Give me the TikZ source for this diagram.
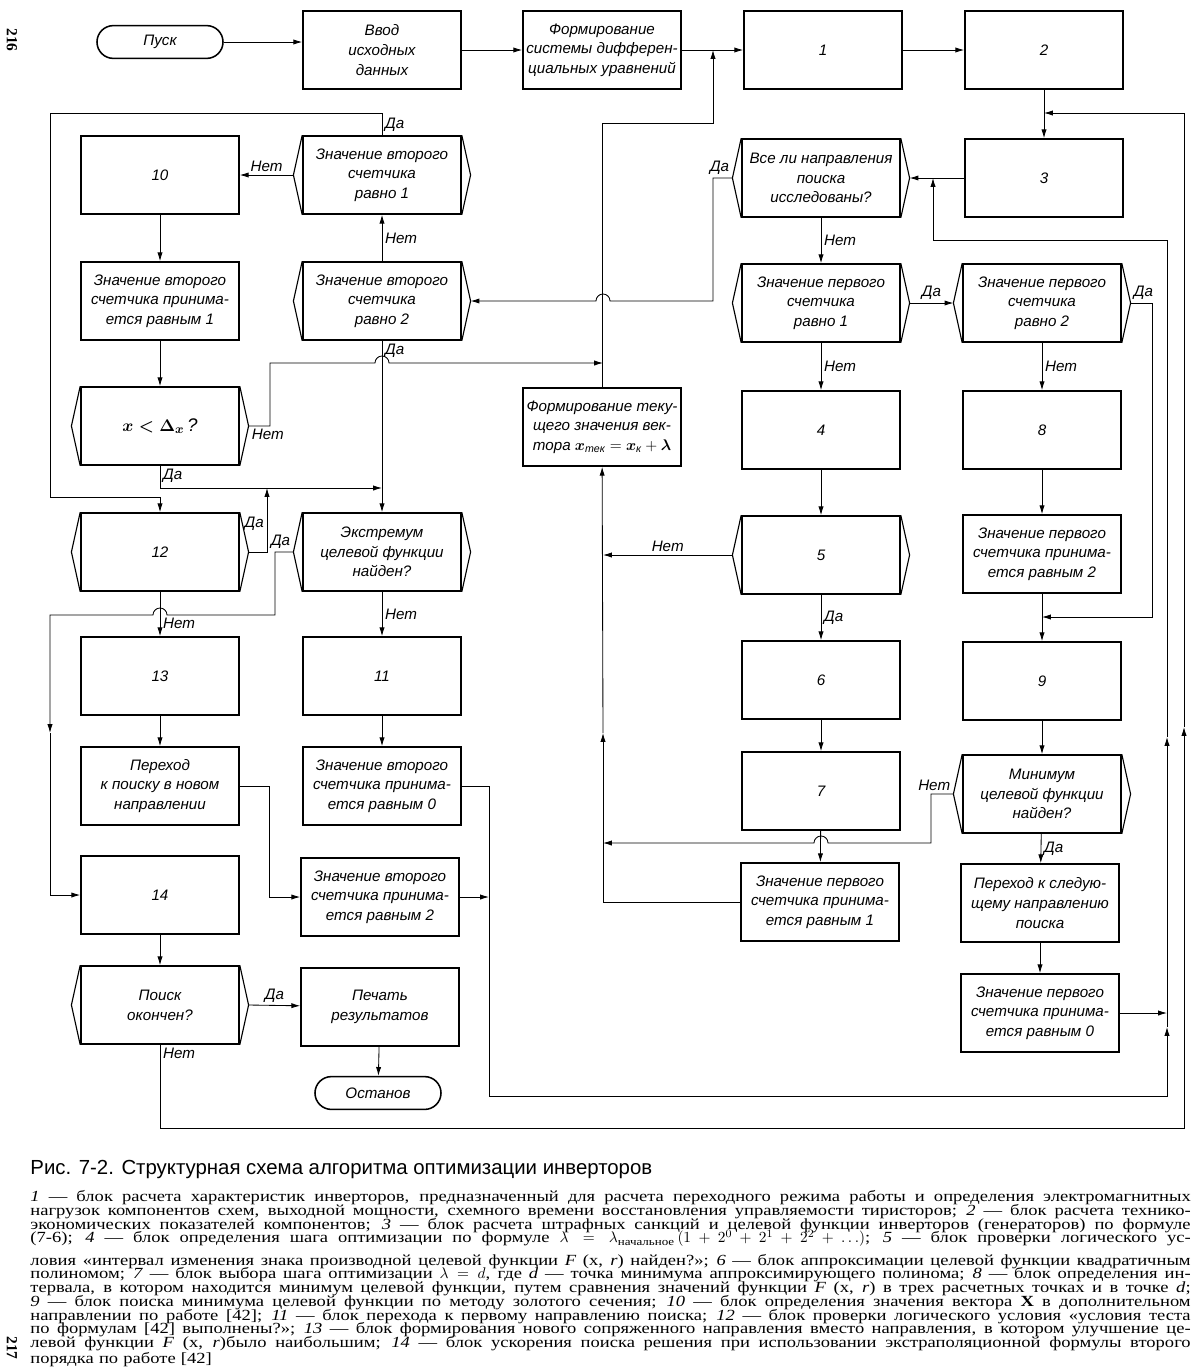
\documentclass[tikz,border=0pt]{standalone}
\usepackage{amsmath}
\usepackage{fontspec}
\setmainfont{Liberation Serif}
\newfontfamily\blockfont{Liberation Sans}
\newfontfamily\capfont[FakeStretch=1.2]{Liberation Serif}
\newfontfamily\titlefont{Liberation Sans}
\usepackage{tikz}
\usetikzlibrary{arrows.meta, positioning}
\newcommand{\blkfont}{\blockfont\itshape\fontsize{10.8}{14}\selectfont}
\newcommand{\capline}[1]{\makebox[29cm][s]{\spaceskip=0pt\xspaceskip=0pt #1}}

\begin{document}
\begin{tikzpicture}[x=0.025cm, y=-0.025cm, line width=0.6pt,
        box/.style={rectangle, draw, line width=1.1pt, minimum width=3.95cm, minimum height=1.95cm, align=center, inner sep=1pt, font=\blkfont},
        term/.style={rectangle, draw, line width=1.1pt, rounded corners=0.41cm, minimum width=3.15cm, minimum height=0.82cm, font=\blkfont},
        arrow/.style={-{Latex[length=2.2mm,width=1.3mm]}},
        lab/.style={font=\blkfont, inner sep=2pt}
    ]
    \useasboundingbox (0,0) rectangle (1200,1369);

    % page numbers
    \node[rotate=-90, font=\fontsize{11}{12}\selectfont\bfseries] (pa) at (12,40) {216};
    \node[rotate=-90, font=\fontsize{11}{12}\selectfont\bfseries] (pb) at (12,1348) {217};

    % blocks
    \node[term] (start) at (160,42) {Пуск};
    \node[box] (inp) at (382,50) {Ввод\\исходных\\данных};
    \node[box] (sys) at (602,50) {Формирование\\системы дифферен-\\циальных уравнений};
    \node[box] (b1) at (823,50) {1};
    \node[box] (b2) at (1044,50) {2};
    \node[box] (b3) at (1044,178) {3};
    \node[box] (qall) at (821,178) {Все ли направления\\поиска\\исследованы?};
    \node[box] (b10) at (160,175) {10};
    \node[box] (c2eq1) at (382,175) {Значение второго\\счетчика\\равно 1};
    \node[box] (s2eq1) at (160,301) {Значение второго\\счетчика принима-\\ется равным 1};
    \node[box] (c2eq2) at (382,301) {Значение второго\\счетчика\\равно 2};
    \node[box] (c1eq1) at (821,303) {Значение первого\\счетчика\\равно 1};
    \node[box] (c1eq2) at (1042,303) {Значение первого\\счетчика\\равно 2};
    \node[box] (cx) at (160,426) {{\fontsize{13}{15}\selectfont$\boldsymbol{x<\Delta_x}$\,?}};
    \node[box] (sys2) at (602,427) {Формирование теку-\\щего значения век-\\тора $\boldsymbol{x}_{\text{тек}}=\boldsymbol{x}_{\text{к}}+\boldsymbol{\lambda}$};
    \node[box] (b4) at (821,430) {4};
    \node[box] (b8) at (1042,430) {8};
    \node[box] (c12) at (160,552) {12};
    \node[box] (cext) at (382,552) {Экстремум\\целевой функции\\найден?};
    \node[box] (c5) at (821,555) {5};
    \node[box] (s1eq2) at (1042,554) {Значение первого\\счетчика принима-\\ется равным 2};
    \node[box] (b13) at (160,676) {13};
    \node[box] (b11) at (382,676) {11};
    \node[box] (b6) at (821,680) {6};
    \node[box] (b9) at (1042,681) {9};
    \node[box] (ptrans) at (160,786) {Переход\\к поиску в новом\\направлении};
    \node[box] (s2eq0) at (382,786) {Значение второго\\счетчика принима-\\ется равным 0};
    \node[box] (b7) at (821,791) {7};
    \node[box] (cmin) at (1042,794) {Минимум\\целевой функции\\найден?};
    \node[box] (b14) at (160,895) {14};
    \node[box] (s2eq2) at (380,897) {Значение второго\\счетчика принима-\\ется равным 2};
    \node[box] (s1eq1) at (820,902) {Значение первого\\счетчика принима-\\ется равным 1};
    \node[box] (pnext) at (1040,903) {Переход к следую-\\щему направлению\\поиска};
    \node[box] (cend) at (160,1005) {Поиск\\окончен?};
    \node[box] (print) at (380,1007) {Печать\\результатов};
    \node[box] (s1eq0) at (1040,1013) {Значение первого\\счетчика принима-\\ется равным 0};
    \node[term] (stop) at (378,1093) {Останов};

    % side marks of the condition blocks
    \foreach \n in {qall,c2eq1,c2eq2,c1eq1,c1eq2,cx,c12,cext,c5,cmin,cend}{
        \draw[line width=0.8pt] (\n.north west) -- ([xshift=-0.22cm]\n.west) coordinate (\n-l) -- (\n.south west)
            (\n.north east) -- ([xshift=0.22cm]\n.east) coordinate (\n-r) -- (\n.south east);
    }

    % junctions
    \coordinate (jtop) at (713,50);
    \coordinate (jo) at (1044,113);
    \coordinate (jq) at (933,178);
    \coordinate (jn) at (603,363);
    \coordinate (jx) at (382,488);
    \coordinate (j12) at (267,488);
    \coordinate (j5) at (603,555);
    \coordinate (jd) at (1042,617);
    \coordinate (jl) at (50,733);
    \coordinate (jv) at (603,733);
    \coordinate (ro) at (1184,727);
    \coordinate (ri) at (1167,737);
    \coordinate (ri2) at (1167,1027);
    \coordinate (jm) at (603,843);
    \coordinate (js) at (489,897);
    \coordinate (ji) at (1167,1013);

    % upper row
    \draw[arrow] (start) -- (start -| inp.west);
    \draw[arrow] (inp) -- (sys);
    \draw[arrow] (sys) -- (b1);
    \draw[arrow] (b1) -- (b2);
    \draw[arrow] (b2) -- (b3);
    \draw[arrow] (b3) -- (qall-r);
    \draw[arrow] (sys2) |- (713,123) -- (jtop);

    % right part
    \draw[arrow] (qall) -- node[lab, right]{Нет} (c1eq1);
    \draw[arrow] (qall-l) node[lab, above left]{Да} -| (713,301) -- (610,301)
        arc[start angle=0, end angle=180, radius=0.175cm] -- (c2eq2-r);
    \draw[arrow] (c1eq1-r) -- node[lab, above]{Да} (c1eq2-l);
    \draw[arrow] (c1eq1) -- node[lab, right]{Нет} (b4);
    \draw[arrow] (c1eq2) -- node[lab, right]{Нет} (b8);
    \draw[arrow] (c1eq2-r) node[lab, above right]{Да} -| (1152,617) -- (jd);
    \draw[arrow] (b8) -- (s1eq2);
    \draw[arrow] (s1eq2) -- (b9);
    \draw[arrow] (b9) -- (cmin);
    \draw[arrow] (cmin) -- node[lab, right]{Да} (pnext);
    \draw[arrow] (pnext) -- (s1eq0);
    \draw[arrow] (s1eq0) -- (ji);
    \draw[arrow] (cmin-l) node[lab, above left]{Нет} -- (931,794) |- (828,843)
        arc[start angle=0, end angle=180, radius=0.175cm] -- (jm);
    \draw[arrow] (b4) -- (c5);
    \draw[arrow] (c5) -- node[lab, right]{Да} (b6);
    \draw[arrow] (b6) -- (b7);
    \draw[arrow] (b7) -- (s1eq1);
    \draw[arrow] (c5-l) -- node[lab, above]{Нет} (j5);
    \draw (s1eq1) -| (jm);
    \draw[arrow] (jm) -- (jv);
    \draw[arrow] (jv) -- (sys2);

    % left part
    \draw[arrow] (c2eq1-l) -- node[lab, above]{Нет} (b10);
    \draw[arrow] (c2eq1.north) node[lab, above right]{Да} |- (50,113) |- (160,497) -- (c12);
    \draw[arrow] (c2eq2) -- node[lab, right]{Нет} (c2eq1);
    \draw[arrow] (c2eq2.south) node[lab, below right]{Да} -- (cext);
    \draw[arrow] (b10) -- (s2eq1);
    \draw[arrow] (s2eq1) -- (cx);
    \draw[arrow] (cx-r) node[lab, below right]{Нет} -- (270,426) |- (375,363)
        arc[start angle=180, end angle=0, radius=0.175cm] -- (jn);
    \draw[arrow] (cx.south) node[lab, below right]{Да} |- (jx);
    \draw[arrow] (c12-r) -| node[lab, left, pos=0.72]{Да} (j12);
    \draw[arrow] (c12) -- node[lab, right, pos=0.7]{Нет} (b13);
    \draw[arrow] (cext-l) node[lab, above left]{Да} -- (275,552) |- (167,615)
        arc[start angle=0, end angle=180, radius=0.175cm] -- (50,615) -- (jl);
    \draw[arrow] (jl) |- (b14);
    \draw[arrow] (cext) -- node[lab, right]{Нет} (b11);
    \draw[arrow] (b13) -- (ptrans);
    \draw[arrow] (ptrans) -- (269,786) |- (s2eq2);
    \draw[arrow] (b11) -- (s2eq0);
    \draw[arrow] (s2eq2) -- (js);
    \draw[arrow] (b14) -- (cend);
    \draw[arrow] (cend-r) -- node[lab, above]{Да} (print);
    \draw[arrow] (print) -- (stop);

    % return loops
    \draw[arrow] (s2eq0) -| (489,1096) -| (ri2);
    \draw[arrow] (ri2) -- (ri);
    \draw[arrow] (ri) |- (933,240) -- (jq);
    \draw[arrow] (cend.south) node[lab, below right]{Нет} |- (1184,1128) -- (ro);
    \draw[arrow] (ro) |- (jo);

    % caption
    \node[anchor=base west, inner sep=0pt, font=\titlefont\fontsize{14.5}{16}\selectfont] (title) at (30,1174)
        {Рис. 7-2. Структурная схема алгоритма оптимизации инверторов};
    \node[anchor=north west, inner sep=0pt, text width=29cm, align=left,
          font=\capfont\fontsize{11}{9.8}\selectfont] (note) at (30,1190)
        {\lineskiplimit=-30pt
        \capline{\textit{1} — блок расчета характеристик инверторов, предназначенный для расчета переходного режима работы и определения электромагнитных}\\
        \capline{нагрузок компонентов схем, выходной мощности, схемного времени восстановления управляемости тиристоров; \textit{2} — блок расчета технико-}\\
        \capline{экономических показателей компонентов; \textit{3} — блок расчета штрафных санкций и целевой функции инверторов (генераторов) по формуле}\\
        \capline{(7-6); \textit{4} — блок определения шага оптимизации по формуле $\lambda=\lambda_{\text{начальное}}\,(1+2^0+2^1+2^2+\ldots)$; \textit{5} — блок проверки логического ус-}\\[6pt]
        \capline{ловия «интервал изменения знака производной целевой функции \textit{F} (x, \textit{r}) найден?»; \textit{6} — блок аппроксимации целевой функции квадратичным}\\
        \capline{полиномом; \textit{7} — блок выбора шага оптимизации $\lambda=d$, где \textit{d} — точка минимума аппроксимирующего полинома; \textit{8} — блок определения ин-}\\
        \capline{тервала, в котором находится минимум целевой функции, путем сравнения значений функции \textit{F} (x, \textit{r}) в трех расчетных точках и в точке \textit{d};}\\
        \capline{\textit{9} — блок поиска минимума целевой функции по методу золотого сечения; \textit{10} — блок определения значения вектора \textbf{X} в дополнительном}\\
        \capline{направлении по работе [42]; \textit{11} — блок перехода к первому направлению поиска; \textit{12} — блок проверки логического условия «условия теста}\\
        \capline{по формулам [42] выполнены?»; \textit{13} — блок формирования нового сопряженного направления вместо направления, в котором улучшение це-}\\
        \capline{левой функции \textit{F} (x, \textit{r})было наибольшим; \textit{14} — блок ускорения поиска решения при использовании экстраполяционной формулы второго}\\
        порядка по работе [42]};
\end{tikzpicture}
\end{document}
